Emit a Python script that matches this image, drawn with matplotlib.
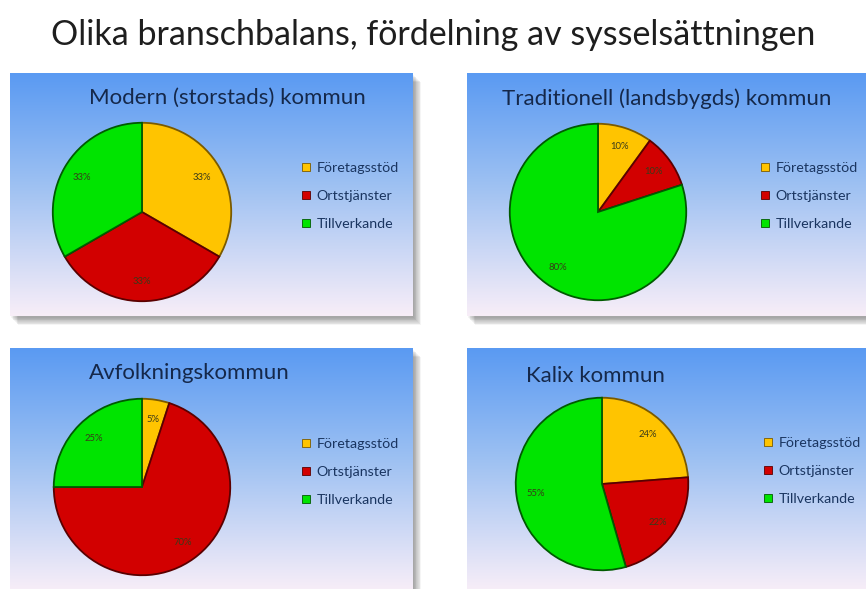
import numpy as np
import matplotlib
matplotlib.use("Agg")
import matplotlib.pyplot as plt
from matplotlib.patches import Patch, Rectangle
from matplotlib.colors import to_rgb

plt.rcParams["font.family"] = ["Lato", "DejaVu Sans"]

# ── Data ────────────────────────────────────────────────
main_title = "Olika branschbalans, fördelning av sysselsättningen"
categories = ["Företagsstöd", "Ortstjänster", "Tillverkande"]
panel_titles = [
    "Modern (storstads) kommun",
    "Traditionell (landsbygds) kommun",
    "Avfolkningskommun",
    "Kalix kommun",
]
modern = [33, 33, 33]
traditionell = [10, 10, 80]
avfolkning = [5, 70, 25]
kalix = [24, 22, 55]
panel_values = [modern, traditionell, avfolkning, kalix]

slice_colors = ["#FFC400", "#D20000", "#00E400"]
edge_colors = ["#7a5a00", "#5a0000", "#005a00"]

W, H = 866, 589

# panel boxes in pixels: x, y, w, h
panels = [(10, 73, 403, 243), (467, 73, 403, 243),
          (10, 348, 403, 243), (467, 348, 403, 243)]
# pie centre and radius in pixels
pies = [(142, 212, 91), (598, 212, 90), (142, 487, 90), (602, 484, 88)]
title_pos = [(227, 98), (667, 99), (189, 373), (595, 376)]
legend_pos = [(302, 162), (761, 162), (302, 438), (764, 437)]

fig = plt.figure(figsize=(W / 100, H / 100), dpi=100)
fig.patch.set_facecolor("white")

base = fig.add_axes([0, 0, 1, 1])
base.set_xlim(0, W)
base.set_ylim(H, 0)
base.axis("off")


def gradient():
    stops = [(0.0, "#5A9AF3"), (0.45, "#9CC0F2"), (1.0, "#F8EEF8")]
    t = np.linspace(0, 1, 256)
    cols = []
    for ch in range(3):
        xs = [s[0] for s in stops]
        ys = [to_rgb(s[1])[ch] for s in stops]
        cols.append(np.interp(t, xs, ys))
    return np.stack(cols, axis=-1)[:, None, :]


grad = gradient()

for (x, y, w, h) in panels:
    # soft shadow to the right and below
    for i in range(10):
        base.add_patch(Rectangle((x + 1 + i * 0.8, y + 2 + i * 0.8), w, h,
                                 facecolor="black", alpha=0.04,
                                 edgecolor="none", zorder=1))
    base.imshow(grad, extent=(x, x + w, y + h, y), aspect="auto", zorder=2)

base.set_xlim(0, W)
base.set_ylim(H, 0)

fig.text(0.5, 1 - 35 / H, main_title, ha="center", va="center",
         fontsize=24.5, color="#1e1e1e")

for k in range(4):
    vals = panel_values[k]
    cx, cy, r = pies[k]
    ax = fig.add_axes([(cx - r) / W, 1 - (cy + r) / H, 2 * r / W, 2 * r / H])
    it = iter(vals)
    wedges, _, autotexts = ax.pie(
        vals, colors=slice_colors, startangle=90, counterclock=False,
        autopct=lambda p, it=it: f"{next(it)}%", pctdistance=0.78,
        wedgeprops=dict(linewidth=1.3),
        textprops=dict(fontsize=6.8, color="#3a3a1a"))
    for wdg, ec in zip(wedges, edge_colors):
        wdg.set_edgecolor(ec)
    ax.set_xlim(-1.02, 1.02)
    ax.set_ylim(-1.02, 1.02)

    tx, ty = title_pos[k]
    fig.text(tx / W, 1 - ty / H, panel_titles[k], ha="center", va="center",
             fontsize=16, color="#15284a")

    lx, ly = legend_pos[k]
    handles = [Patch(facecolor=c, edgecolor=e, linewidth=0.6)
               for c, e in zip(slice_colors, edge_colors)]
    leg = base.legend(handles, categories, loc="upper left",
                      bbox_to_anchor=(lx / W, 1 - ly / H),
                      bbox_transform=fig.transFigure, frameon=False,
                      fontsize=10.3, labelcolor="#1a3560", handlelength=0.55,
                      handleheight=0.55, handletextpad=0.45, labelspacing=1.12,
                      borderpad=0, borderaxespad=0)
    base.add_artist(leg)
    base.legend_ = None

fig.savefig("out.png", dpi=100, facecolor="white")
